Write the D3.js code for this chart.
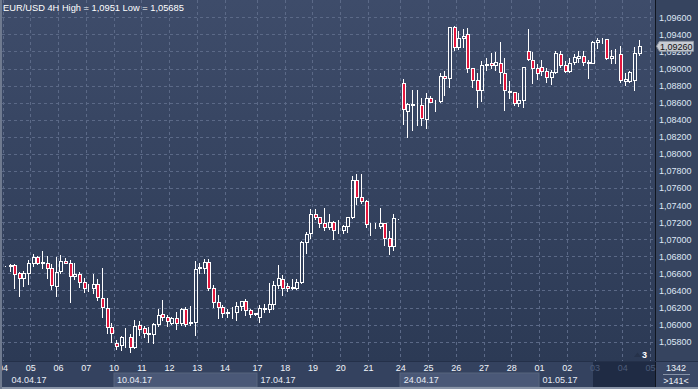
<!DOCTYPE html>
<html><head><meta charset="utf-8">
<script src="https://cdn.jsdelivr.net/npm/d3@7"></script>
<style>html,body{margin:0;padding:0;background:#34425f;overflow:hidden}svg{display:block;font-family:"Liberation Sans",Arial,sans-serif}</style>
</head><body>
<svg id="c" width="698" height="389"></svg>
<script>
// ---- data (EUR/USD 4H) ----
const opens = [1.06692,1.06687,1.06698,1.06601,1.06542,1.06601,1.06726,1.06788,1.06722,1.06726,
1.06659,1.06456,1.06632,1.06749,1.06726,1.06569,1.06589,1.06495,1.06433,1.06433,
1.06472,1.06316,1.06191,1.05976,1.05781,1.05761,1.05855,1.05859,1.05742,1.05995,
1.05956,1.05906,1.05890,1.06003,1.06120,1.06085,1.06015,1.06074,1.06015,1.06183,
1.06023,1.06027,1.06659,1.06659,1.06730,1.06425,1.06261,1.06203,1.06152,1.06140,
1.06152,1.06222,1.06280,1.06171,1.06132,1.06093,1.06188,1.06179,1.06238,1.06464,
1.06530,1.06456,1.06433,1.06433,1.06495,1.06964,1.07070,1.07292,1.07257,1.07187,
1.07147,1.07198,1.07108,1.07108,1.07159,1.07265,1.07694,1.07499,1.07448,1.07175,
1.07173,1.07159,1.07187,1.07011,1.06925,1.07245,1.08826,1.08506,1.08578,1.08573,
1.08572,1.08409,1.08659,1.08620,1.08620,1.08916,1.08893,1.09490,1.09248,1.09361,
1.09400,1.09002,1.08865,1.08748,1.09045,1.09061,1.09041,1.09061,1.08944,1.08737,
1.08729,1.08600,1.08631,1.09209,1.09100,1.09002,1.09014,1.08975,1.08897,1.08963,
1.09166,1.09041,1.08975,1.09072,1.09119,1.09147,1.09072,1.09070,1.09307,1.09334,
1.09342,1.09119,1.09170,1.09170,1.08858,1.08858,1.08865,1.09178];
const highs = [1.06700,1.06726,1.06726,1.06632,1.06640,1.06765,1.06843,1.06815,1.06874,1.06815,
1.06718,1.06804,1.06823,1.06796,1.06765,1.06737,1.06632,1.06562,1.06484,1.06601,
1.06542,1.06679,1.06327,1.06035,1.05828,1.05878,1.05973,1.05898,1.06062,1.06054,
1.05995,1.05988,1.06035,1.06199,1.06296,1.06120,1.06105,1.06160,1.06210,1.06222,
1.06230,1.06757,1.06730,1.06777,1.06777,1.06472,1.06355,1.06238,1.06191,1.06222,
1.06277,1.06285,1.06308,1.06191,1.06152,1.06238,1.06250,1.06503,1.06523,1.06710,
1.06589,1.06503,1.06542,1.06542,1.06991,1.07101,1.07362,1.07362,1.07276,1.07374,
1.07304,1.07226,1.07237,1.07175,1.07272,1.07753,1.07772,1.07772,1.07468,1.07206,
1.07198,1.07374,1.07206,1.07108,1.07304,1.07249,1.08890,1.08604,1.08760,1.08760,
1.08670,1.08721,1.08690,1.08643,1.08963,1.08983,1.09495,1.09510,1.09451,1.09471,
1.09490,1.09022,1.08963,1.09099,1.09139,1.09189,1.09205,1.09322,1.09139,1.08865,
1.08737,1.08720,1.09022,1.09471,1.09209,1.09069,1.09108,1.09022,1.08991,1.09217,
1.09217,1.09100,1.09139,1.09178,1.09217,1.09217,1.09108,1.09334,1.09365,1.09365,
1.09354,1.09225,1.09237,1.09276,1.08963,1.08983,1.09264,1.09342];
const lows = [1.06682,1.06632,1.06425,1.06339,1.06452,1.06476,1.06687,1.06710,1.06659,1.06542,
1.06413,1.06335,1.06609,1.06718,1.06269,1.06530,1.06445,1.06378,1.06394,1.06374,
1.06288,1.06093,1.05898,1.05800,1.05714,1.05703,1.05739,1.05685,1.05722,1.05878,
1.05859,1.05800,1.05781,1.05984,1.06054,1.05984,1.06003,1.05949,1.05995,1.05988,
1.05995,1.05878,1.06601,1.06601,1.06406,1.06210,1.06081,1.06093,1.06093,1.06074,
1.06054,1.06171,1.06113,1.06093,1.06113,1.06034,1.06152,1.06152,1.06183,1.06433,
1.06347,1.06394,1.06413,1.06417,1.06484,1.06835,1.07019,1.07233,1.07147,1.07108,
1.07120,1.07003,1.07069,1.07069,1.07089,1.07245,1.07409,1.07421,1.07147,1.07050,
1.07128,1.07128,1.06933,1.06823,1.06874,1.07243,1.08350,1.08202,1.08280,1.08338,
1.08338,1.08307,1.08604,1.08502,1.08604,1.08690,1.08787,1.09217,1.09229,1.09256,
1.08963,1.08787,1.08553,1.08619,1.08983,1.09002,1.08983,1.08826,1.08514,1.08651,
1.08573,1.08560,1.08553,1.09100,1.08826,1.08873,1.08924,1.08846,1.08819,1.08944,
1.09022,1.08963,1.08963,1.09050,1.09081,1.09041,1.08885,1.09061,1.09236,1.09303,
1.09108,1.09061,1.09061,1.08846,1.08807,1.08846,1.08748,1.09158];
const closes = [1.06690,1.06702,1.06589,1.06542,1.06601,1.06726,1.06788,1.06726,1.06730,1.06659,
1.06464,1.06620,1.06749,1.06726,1.06569,1.06589,1.06495,1.06433,1.06430,1.06472,
1.06327,1.06202,1.05976,1.05898,1.05753,1.05851,1.05860,1.05742,1.05988,1.05949,
1.05906,1.05890,1.06007,1.06113,1.06085,1.06042,1.06074,1.06023,1.06183,1.06003,
1.06027,1.06648,1.06671,1.06730,1.06425,1.06261,1.06203,1.06132,1.06132,1.06142,
1.06222,1.06280,1.06171,1.06120,1.06130,1.06190,1.06192,1.06238,1.06464,1.06542,
1.06425,1.06425,1.06435,1.06495,1.06964,1.07062,1.07292,1.07257,1.07187,1.07147,
1.07198,1.07108,1.07110,1.07155,1.07265,1.07694,1.07499,1.07448,1.07175,1.07173,
1.07177,1.07187,1.07011,1.06925,1.07245,1.07247,1.08525,1.08580,1.08580,1.08572,
1.08416,1.08659,1.08612,1.08622,1.08916,1.08893,1.09490,1.09248,1.09361,1.09385,
1.09002,1.08865,1.08748,1.09041,1.09049,1.09041,1.09072,1.08955,1.08748,1.08721,
1.08600,1.08635,1.09014,1.09108,1.09002,1.08951,1.08975,1.08897,1.08963,1.09178,
1.09041,1.08975,1.09061,1.09131,1.09147,1.09072,1.09070,1.09307,1.09334,1.09338,
1.09119,1.09147,1.09172,1.08865,1.08873,1.08963,1.09178,1.09260];

const yTicks = [1.058,1.060,1.062,1.064,1.066,1.068,1.070,1.072,1.074,1.076,1.078,1.080,1.082,1.084,1.086,1.088,1.090,1.092,1.094,1.096];
const dayLabels = ["04","05","06","07","10","11","12","13","14","17","18","19","20","21","24","25","26","27","28","01","02","03","04","05"];
const dayBar = [-0.5,5.5,11.5,17.5,23.5,29.5,35.5,41.5,47.5,54.5,60.5,66.5,72.5,78.5,85.5,91.5,97.5,103.5,109.5,115.5,121.5,127.5,133.5,139.5];
const weekLabels = ["04.04.17","10.04.17","17.04.17","24.04.17","01.05.17"];
const weekStart = [-0.5,23.5,54.5,85.5,115.5];
const futureDays = 3;
const title = "EUR/USD 4H High = 1,0951 Low = 1,05685";
const lastPrice = 1.0926;
const barsInfo = ["1342", ">141<"];
const cornerNote = "3";

// ---- drawing ----
const W = 698, H = 389, plotR = 655, plotB = 361;
const svg = d3.select("#c");
const fmt = v => d3.format(".5f")(v).replace(".", ",");
const x = d3.scaleLinear().domain([0, 139.5]).range([4.9, 4.9 + 139.5 * 4.625]);
const y = d3.scaleLinear().domain([1.058, 1.096]).range([341.7, 17.3]);

const defs = svg.append("defs");
const g = defs.append("linearGradient").attr("id","bg").attr("x1",0).attr("y1",0).attr("x2",0).attr("y2",1);
g.append("stop").attr("offset","0%").attr("stop-color","#3e4c6a");
g.append("stop").attr("offset","100%").attr("stop-color","#2c3a55");
defs.append("clipPath").attr("id","pc").append("rect").attr("x",2).attr("y",0).attr("width",plotR-2).attr("height",plotB);

svg.append("rect").attr("width",W).attr("height",H).attr("fill","#34425f");
svg.append("rect").attr("x",0).attr("y",0).attr("width",plotR).attr("height",plotB).attr("fill","url(#bg)");
// right panel
svg.append("rect").attr("x",plotR).attr("y",0).attr("width",W-plotR).attr("height",plotB).attr("fill","#36445f");

// grid
const grid = svg.append("g").attr("clip-path","url(#pc)").attr("stroke","#5b6987").attr("stroke-width",1).attr("stroke-dasharray","3,3").attr("shape-rendering","crispEdges");
grid.selectAll("line.h").data(yTicks).join("line").attr("class","h")
  .attr("x1",2).attr("x2",plotR).attr("y1",d=>Math.round(y(d))+0.5).attr("y2",d=>Math.round(y(d))+0.5);
grid.selectAll("line.v").data(dayBar).join("line").attr("class","v")
  .attr("y1",0).attr("y2",plotB).attr("x1",d=>Math.round(x(d))+0.5).attr("x2",d=>Math.round(x(d))+0.5);

// candles
const data = opens.map((o,i)=>({i,o,h:highs[i],l:lows[i],c:closes[i]}));
const cg = svg.append("g").attr("clip-path","url(#pc)").attr("shape-rendering","crispEdges");
const px = d => Math.round(x(d.i)) + 0.5;
const py = v => Math.round(y(v)) + 0.5;
const candle = cg.selectAll("g").data(data).join("g");
candle.append("line").attr("stroke","#fff")
  .attr("x1",px).attr("x2",px).attr("y1",d=>py(d.h)).attr("y2",d=>py(Math.max(d.o,d.c)));
candle.append("line").attr("stroke","#fff")
  .attr("x1",px).attr("x2",px).attr("y1",d=>py(Math.min(d.o,d.c))).attr("y2",d=>py(d.l));
candle.append("rect")
  .attr("x",d=>px(d)-1).attr("width",3)
  .attr("y",d=>py(Math.max(d.o,d.c)))
  .attr("height",d=>py(Math.min(d.o,d.c))-py(Math.max(d.o,d.c)))
  .attr("fill",d=>d.c<d.o?"#e3173e":"none").attr("stroke","#fff").attr("stroke-width",1);

// title
svg.append("text").attr("x",3).attr("y",11).attr("fill","#ffffff").attr("font-size","9.3px").text(title);

// right axis
svg.append("line").attr("x1",plotR+0.5).attr("x2",plotR+0.5).attr("y1",0).attr("y2",H).attr("stroke","#10151f");
const ya = svg.append("g").attr("transform",`translate(${plotR},0)`)
  .call(d3.axisRight(y).tickValues(yTicks).tickFormat(fmt).tickSize(0).tickPadding(4));
ya.select(".domain").remove();
ya.selectAll("text").attr("fill","#dfe7f5").attr("font-size","9px").attr("font-family","'Liberation Sans',Arial,sans-serif");

// current price marker
const ly = y(lastPrice);
svg.append("path").attr("d",`M${plotR+1.5},${ly} L${plotR+4.5},${ly-5} L${plotR+38.5},${ly-5} L${plotR+38.5},${ly+5} L${plotR+4.5},${ly+5} Z`)
  .attr("fill","#c8ccd3").attr("stroke","#8f96a2");
svg.append("text").attr("x",plotR+5).attr("y",ly+3.3).attr("fill","#111").attr("font-size","9px").text(fmt(lastPrice));

// bottom axis area
svg.append("rect").attr("x",0).attr("y",plotB).attr("width",plotR).attr("height",H-plotB).attr("fill","#34425f");
svg.append("line").attr("x1",0).attr("x2",W).attr("y1",plotB+0.5).attr("y2",plotB+0.5).attr("stroke","#243049");
// week shading in date row
const weekEnd = weekStart.slice(1).concat([dayBar[dayBar.length-futureDays]-0.5]);
svg.selectAll("rect.wk").data(weekStart).join("rect").attr("class","wk")
  .attr("x",d=>Math.round(x(d))).attr("y",373)
  .attr("width",(d,i)=>Math.round(x(weekEnd[i]))-Math.round(x(d))).attr("height",14)
  .attr("fill",(d,i)=>i%2? "#4a5877":"none").attr("stroke",(d,i)=>i%2?"#56647f":"none");
// future region
const fx = Math.round(x(dayBar[dayBar.length-futureDays]-0.4));
svg.append("rect").attr("x",fx).attr("y",plotB+1).attr("width",plotR-fx).attr("height",H-plotB-3).attr("fill","#1f2b44");

const xa = svg.append("g").attr("transform",`translate(0,${plotB})`)
  .call(d3.axisBottom(x).tickValues(dayBar).tickFormat((d,i)=>dayLabels[i]).tickSize(0));
xa.select(".domain").remove();
xa.selectAll("text").attr("y",10).attr("dy",0).attr("font-size","9px").attr("font-family","'Liberation Sans',Arial,sans-serif")
  .attr("fill",(d,i)=> i>=dayLabels.length-futureDays ? "#4d5c7a" : "#f2f5fa");

svg.selectAll("text.wl").data(weekLabels).join("text").attr("class","wl")
  .attr("x",(d,i)=>Math.max(x(weekStart[i])+3.5, 11.5)).attr("y",383)
  .attr("fill","#e6ecf6").attr("font-size","9px").text(d=>d);

// corner box
svg.append("rect").attr("x",plotR+1).attr("y",plotB+1).attr("width",W-plotR-1).attr("height",H-plotB-3).attr("fill","#3a4866");
svg.append("text").attr("x",676).attr("y",371).attr("text-anchor","middle").attr("fill","#eef2f8").attr("font-size","9px").text(barsInfo[0]);
svg.append("line").attr("x1",663).attr("x2",690).attr("y1",374.5).attr("y2",374.5).attr("stroke","#8793a8");
svg.append("text").attr("x",676).attr("y",384).attr("text-anchor","middle").attr("fill","#eef2f8").attr("font-size","9px").text(barsInfo[1]);

// small note
svg.append("path").attr("d","M634,357 L637.5,352.5 L641,357 Z").attr("fill","#26324a");
svg.append("text").attr("x",642).attr("y",358).attr("fill","#ffffff").attr("font-size","9px").attr("font-weight","bold").text(cornerNote);

// borders
svg.append("rect").attr("x",0).attr("y",H-2).attr("width",W).attr("height",2).attr("fill","#8a95a8");
svg.append("rect").attr("x",0).attr("y",0).attr("width",2).attr("height",H).attr("fill","#6f7a8f");
</script>
</body></html>
